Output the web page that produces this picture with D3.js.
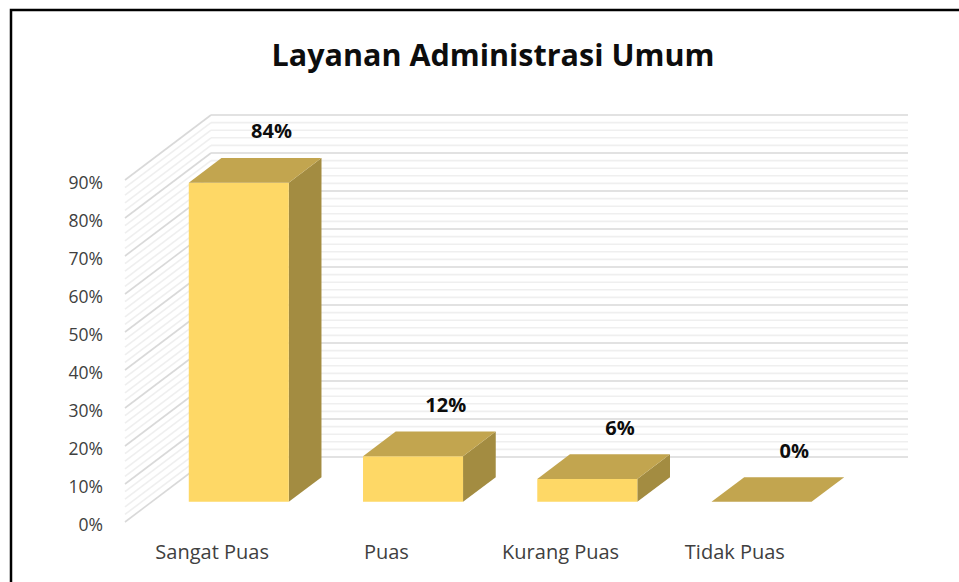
<!DOCTYPE html>
<html>
<head>
<meta charset="utf-8">
<title>Layanan Administrasi Umum</title>
<script src="https://d3js.org/d3.v7.min.js"></script>
<style>
  body { margin: 0; background: #fff; }
  svg { display: block; }
  text { font-family: "Open Sans", sans-serif; }
</style>
</head>
<body>
<script>
const categories = ["Sangat Puas", "Puas", "Kurang Puas", "Tidak Puas"];
const values = [0.84, 0.12, 0.06, 0];
const valueLabels = ["84%", "12%", "6%", "0%"];
const yTicks = [0, 0.1, 0.2, 0.3, 0.4, 0.5, 0.6, 0.7, 0.8, 0.9];
const yTickLabels = ["0%", "10%", "20%", "30%", "40%", "50%", "60%", "70%", "80%", "90%"];
const gridSteps = d3.range(0, 0.9001, 0.02);
const title = "Layanan Administrasi Umum";

const w = 959, h = 582;

const svg = d3.select("body").append("svg").attr("width", w).attr("height", h);

// front plane scales
const x = d3.scaleBand().domain(categories).range([125, 822])
    .paddingInner(0.426).paddingOuter(0.213);
const y = d3.scaleLinear().domain([0, 0.9]).range([522, 180]);
// depth (oblique projection)
const dxs = d3.scaleLinear().domain([0, 1]).range([0, 86]);
const dys = d3.scaleLinear().domain([0, 1]).range([0, -65]);
const P = (xf, v, d) => [xf + dxs(d), y(v) + dys(d)];

const isMajor = v => Math.abs(v * 10 - Math.round(v * 10)) < 1e-6;

// back wall gridlines
svg.append("g").selectAll("line").data(gridSteps).enter().append("line")
    .attr("x1", v => P(125, v, 1)[0]).attr("y1", v => P(125, v, 1)[1])
    .attr("x2", v => P(822, v, 1)[0]).attr("y2", v => P(822, v, 1)[1])
    .attr("stroke", v => isMajor(v) ? "#d9d9d9" : "#efefef")
    .attr("stroke-width", 1.6);

// side wall gridlines
svg.append("g").selectAll("line").data(gridSteps).enter().append("line")
    .attr("x1", v => P(125, v, 0)[0]).attr("y1", v => P(125, v, 0)[1])
    .attr("x2", v => P(125, v, 1)[0]).attr("y2", v => P(125, v, 1)[1])
    .attr("stroke", v => isMajor(v) ? "#d9d9d9" : "#efefef")
    .attr("stroke-width", 1.6);

// y labels
svg.append("g").selectAll("text").data(yTicks).enter().append("text")
    .attr("x", 103).attr("y", d => y(d) + 2)
    .attr("text-anchor", "end").attr("dominant-baseline", "central")
    .attr("font-size", 17.5).attr("fill", "#404040")
    .text((d, i) => yTickLabels[i]);

// bars
const d0 = 0.31, d1 = 0.69;
const bars = svg.append("g").selectAll("g").data(categories).enter().append("g");
const poly = pts => "M" + pts.map(p => p.join(",")).join("L") + "Z";

bars.append("path")
    .attr("d", (c, i) => {
        const x0 = x(c), x1 = x0 + x.bandwidth(), v = values[i];
        return poly([P(x1, 0, d0), P(x1, 0, d1), P(x1, v, d1), P(x1, v, d0)]);
    })
    .attr("fill", "#a38c41");
bars.append("path")
    .attr("d", (c, i) => {
        const x0 = x(c), x1 = x0 + x.bandwidth(), v = values[i];
        return poly([P(x0, 0, d0), P(x1, 0, d0), P(x1, v, d0), P(x0, v, d0)]);
    })
    .attr("fill", "#fed866");
bars.append("path")
    .attr("d", (c, i) => {
        const x0 = x(c), x1 = x0 + x.bandwidth(), v = values[i];
        return poly([P(x0, v, d0), P(x1, v, d0), P(x1, v, d1), P(x0, v, d1)]);
    })
    .attr("fill", "#c2a54f");

// data labels
svg.append("g").selectAll("text").data(categories).enter().append("text")
    .attr("x", (c, i) => P(x(c) + x.bandwidth() / 2, values[i], d1)[0])
    .attr("y", (c, i) => P(x(c) + x.bandwidth() / 2, values[i], d1)[1] - 27)
    .attr("text-anchor", "middle").attr("dominant-baseline", "central")
    .attr("font-size", 20).attr("font-weight", "bold").attr("fill", "#0d0d0d")
    .text((c, i) => valueLabels[i]);

// category labels
svg.append("g").selectAll("text").data(categories).enter().append("text")
    .attr("x", c => x(c) + x.bandwidth() / 2)
    .attr("y", 551)
    .attr("text-anchor", "middle").attr("dominant-baseline", "central")
    .attr("font-size", 20).attr("fill", "#404040")
    .text(c => c);

// title
svg.append("text")
    .attr("x", 493).attr("y", 54)
    .attr("text-anchor", "middle").attr("dominant-baseline", "central")
    .attr("font-size", 30.5).attr("font-weight", "bold").attr("fill", "#0d0d0d")
    .text(title);

// frame (cropped at right and bottom)
svg.append("path")
    .attr("d", "M11,582L11,10L959,10")
    .attr("fill", "none").attr("stroke", "#000").attr("stroke-width", 2.5);
</script>
</body>
</html>
